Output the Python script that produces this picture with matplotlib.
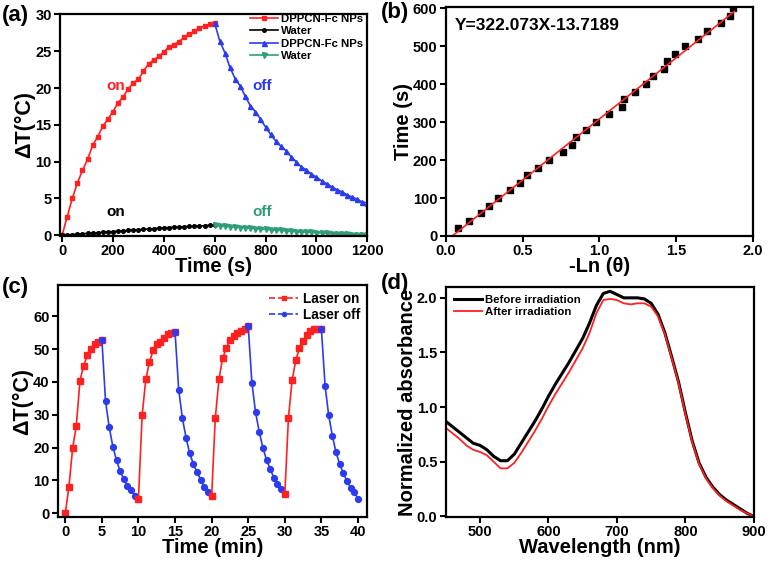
import matplotlib
matplotlib.use("Agg")
import matplotlib.pyplot as plt
from matplotlib.lines import Line2D
import numpy as np

plt.rcParams['font.family'] = ['Liberation Sans', 'DejaVu Sans']
plt.rcParams['font.weight'] = 'bold'
plt.rcParams['axes.labelweight'] = 'bold'

# (a) heating / cooling curves, time in s
t_on = list(range(0, 601, 20))
t_off = list(range(600, 1201, 20))
np_on = [0, 2.5, 5.0, 7.1, 8.8, 10.3, 12.2, 13.4, 14.8, 15.8, 16.8, 18.0, 18.8, 19.9, 20.7, 21.2,
         22.3, 23.3, 23.8, 24.3, 24.9, 25.6, 25.9, 26.3, 26.9, 27.4, 27.7, 28.2, 28.4, 28.7, 28.8]
np_off = [28.8, 26.4, 24.8, 22.8, 21.3, 20.3, 18.9, 17.6, 16.8, 15.8, 14.7, 13.7, 12.8, 12.1, 11.5,
          10.7, 10.0, 9.3, 8.9, 8.3, 7.9, 7.4, 7.0, 6.6, 6.2, 5.9, 5.5, 5.2, 4.9, 4.5, 4.4]
water_on = [0, 0.05, 0.1, 0.15, 0.2, 0.25, 0.3, 0.35, 0.4, 0.45, 0.5, 0.55, 0.6, 0.65, 0.7, 0.75,
            0.8, 0.85, 0.9, 0.95, 1.0, 1.05, 1.1, 1.1, 1.15, 1.2, 1.2, 1.25, 1.3, 1.35, 1.35]
water_off = [1.35, 1.25, 1.2, 1.15, 1.1, 1.05, 1.0, 0.95, 0.9, 0.85, 0.8, 0.75, 0.7, 0.65, 0.6,
             0.55, 0.5, 0.45, 0.42, 0.38, 0.34, 0.3, 0.26, 0.22, 0.19, 0.16, 0.13, 0.1, 0.07, 0.04, 0.02]

# (b) -ln(theta) vs time
neg_ln_theta = [0.08, 0.15, 0.23, 0.28, 0.34, 0.42, 0.48, 0.53, 0.60, 0.67, 0.76, 0.82, 0.85, 0.91,
                0.98, 1.06, 1.15, 1.16, 1.23, 1.30, 1.35, 1.42, 1.44, 1.49, 1.56, 1.64, 1.70, 1.79,
                1.85, 1.87]
time_b = list(range(20, 601, 20))
fit_slope, fit_icpt = 322.073, -13.7189
fit_x = [0.043, 1.88]

# (c) cycling, time in min
cyc_on_t = [[0, 0.5, 1, 1.5, 2, 2.5, 3, 3.5, 4, 4.5, 5],
            [10, 10.5, 11, 11.5, 12, 12.5, 13, 13.5, 14, 14.5, 15],
            [20, 20.5, 21, 21.5, 22, 22.5, 23, 23.5, 24, 24.5, 25],
            [30, 30.5, 31, 31.5, 32, 32.5, 33, 33.5, 34, 34.5, 35]]
cyc_on_v = [[0, 8.1, 19.8, 26.5, 40.3, 45.0, 48.1, 50.0, 51.6, 52.1, 52.9],
            [4.4, 29.8, 40.8, 46.0, 49.6, 51.5, 52.2, 53.5, 54.5, 55.0, 55.2],
            [5.1, 29.0, 40.8, 47.2, 50.3, 52.7, 54.0, 54.8, 55.6, 56.2, 57.0],
            [5.8, 29.1, 40.5, 46.6, 50.3, 52.6, 54.2, 55.4, 56.0, 56.2, 56.2]]
cyc_off_t = [[5, 5.5, 6, 6.5, 7, 7.5, 8, 8.5, 9, 9.5, 10],
             [15, 15.5, 16, 16.5, 17, 17.5, 18, 18.5, 19, 19.5, 20],
             [25, 25.5, 26, 26.5, 27, 27.5, 28, 28.5, 29, 29.5, 30],
             [35, 35.5, 36, 36.5, 37, 37.5, 38, 38.5, 39, 39.5, 40]]
cyc_off_v = [[52.9, 34.1, 26.2, 20.3, 16.1, 12.7, 10.3, 8.4, 7.1, 5.3, 4.4],
             [55.2, 37.6, 29.0, 23.0, 18.2, 15.0, 12.5, 10.2, 8.0, 6.3, 5.1],
             [57.0, 39.8, 30.8, 24.8, 20.0, 16.2, 13.5, 10.8, 8.8, 7.2, 5.8],
             [56.2, 38.9, 29.8, 23.6, 18.5, 15.0, 12.1, 9.8, 7.6, 6.3, 4.4]]

# (d) absorbance spectra
wl = list(range(450, 901, 10))
abs_before = [0.87, 0.82, 0.77, 0.72, 0.67, 0.65, 0.61, 0.55, 0.51, 0.51, 0.57, 0.67, 0.77, 0.87,
              0.98, 1.10, 1.21, 1.31, 1.41, 1.52, 1.63, 1.77, 1.93, 2.04, 2.06, 2.03, 2.00, 2.00,
              2.00, 1.99, 1.95, 1.85, 1.68, 1.46, 1.23, 0.95, 0.69, 0.49, 0.36, 0.27, 0.20, 0.15,
              0.11, 0.07, 0.03, 0.00]
abs_after = [0.81, 0.76, 0.71, 0.65, 0.61, 0.59, 0.56, 0.50, 0.44, 0.44, 0.49, 0.58, 0.68, 0.78,
             0.89, 1.01, 1.12, 1.22, 1.32, 1.43, 1.54, 1.68, 1.86, 1.98, 1.99, 1.98, 1.95, 1.94,
             1.95, 1.95, 1.92, 1.83, 1.67, 1.45, 1.22, 0.94, 0.68, 0.48, 0.35, 0.26, 0.19, 0.14,
             0.10, 0.06, 0.03, 0.00]

RED = '#ff2020'
BLUE = '#2b3cf0'
GREEN = '#2e9e7a'
TICK_FS = 10.5
LABEL_FS = 14.5


def style_ax(ax):
    for s in ax.spines.values():
        s.set_linewidth(1.6)
    ax.tick_params(direction='out', width=1.5, length=4, labelsize=TICK_FS, pad=2)
    for lab in ax.get_xticklabels() + ax.get_yticklabels():
        lab.set_fontweight('bold')


fig = plt.figure(figsize=(7.7, 5.64), dpi=100)
axa = fig.add_axes([0.078, 0.5816, 0.399, 0.394])
axb = fig.add_axes([0.579, 0.5816, 0.399, 0.406])
axc = fig.add_axes([0.0753, 0.0833, 0.401, 0.411])
axd = fig.add_axes([0.579, 0.0833, 0.400, 0.408])

# (a)
axa.plot(t_on, np_on, '-s', color=RED, ms=3.4, lw=1.2, label='DPPCN-Fc NPs')
axa.plot(t_on, water_on, '-o', color='black', ms=2.6, lw=1.2, label='Water')
axa.plot(t_off, np_off, '-^', color=BLUE, ms=3.6, lw=1.2, label='DPPCN-Fc NPs')
axa.plot(t_off, water_off, '-v', color=GREEN, ms=3.6, lw=1.2, label='Water')
axa.set_xlim(-8, 1200)
axa.set_ylim(-0.1, 30.1)
axa.set_xticks([0, 200, 400, 600, 800, 1000, 1200])
axa.set_yticks([0, 5, 10, 15, 20, 25, 30])
axa.set_xlabel('Time (s)', fontsize=LABEL_FS, labelpad=-1)
axa.set_ylabel('ΔT(°C)', fontsize=15.5, labelpad=0)
axa.text(210, 20.3, 'on', color=RED, fontsize=11, ha='center', va='center')
axa.text(787, 20.3, 'off', color=BLUE, fontsize=11, ha='center', va='center')
axa.text(210, 3.1, 'on', color='black', fontsize=11, ha='center', va='center')
axa.text(787, 3.1, 'off', color=GREEN, fontsize=11, ha='center', va='center')
axa.legend(loc='upper right', bbox_to_anchor=(1.0, 1.02), frameon=False, handlelength=2.5,
           handletextpad=0.2, labelspacing=0.22, borderaxespad=0.0,
           prop={'weight': 'bold', 'size': 8.2})
style_ax(axa)

# (b)
axb.plot(neg_ln_theta, time_b, 's', color='black', ms=4.6)
fx = np.array(fit_x)
axb.plot(fx, fit_slope * fx + fit_icpt, '-', color=RED, lw=1.2)
axb.set_xlim(0, 2.0)
axb.set_ylim(0, 603)
axb.set_xticks([0.0, 0.5, 1.0, 1.5, 2.0])
axb.set_yticks([0, 100, 200, 300, 400, 500, 600])
axb.set_xlabel('-Ln (θ)', fontsize=LABEL_FS, labelpad=-1)
axb.set_ylabel('Time (s)', fontsize=LABEL_FS, labelpad=0)
axb.text(0.03, 0.92, 'Y=322.073X-13.7189', transform=axb.transAxes, fontsize=12.5,
         ha='left', va='center')
style_ax(axb)

# (c)
for i in range(4):
    axc.plot(cyc_on_t[i], cyc_on_v[i], '-s', color=RED, ms=4, lw=1.2)
    axc.plot(cyc_off_t[i], cyc_off_v[i], '-o', color=BLUE, ms=4.2, lw=1.2)
axc.set_xlim(-1, 41.2)
axc.set_ylim(-1.2, 69.5)
axc.set_xticks([0, 5, 10, 15, 20, 25, 30, 35, 40])
axc.set_yticks([0, 10, 20, 30, 40, 50, 60])
axc.set_xlabel('Time (min)', fontsize=LABEL_FS, labelpad=-1)
axc.set_ylabel('ΔT(°C)', fontsize=15.5, labelpad=0)
hc = [Line2D([], [], color=RED, ls='--', marker='s', ms=3, lw=1.2),
      Line2D([], [], color=BLUE, ls='--', marker='o', ms=3, lw=1.2)]
axc.legend(hc, ['Laser on', 'Laser off'], loc='upper right', frameon=False, handlelength=2.2,
           handletextpad=0.3, labelspacing=0.15, borderaxespad=0.1,
           prop={'weight': 'bold', 'size': 9.8})
style_ax(axc)

# (d)
axd.plot(wl, abs_before, '-', color='black', lw=2.2, label='Before irradiation')
axd.plot(wl, abs_after, '-', color=RED, lw=1.3, label='After irradiation')
axd.set_xlim(450, 900)
axd.set_ylim(-0.005, 2.1)
axd.set_xticks([500, 600, 700, 800, 900])
axd.set_yticks([0.0, 0.5, 1.0, 1.5, 2.0])
axd.set_yticklabels(['0.0', '0.5', '1.0', '1.5', '2.0'])
axd.set_xlabel('Wavelength (nm)', fontsize=LABEL_FS, labelpad=-1)
axd.set_ylabel('Normalized absorbance', fontsize=LABEL_FS, labelpad=0)
axd.legend(loc='upper left', frameon=False, handlelength=2.4, handletextpad=0.25,
           labelspacing=0.12, borderaxespad=0.35, prop={'weight': 'bold', 'size': 8.2})
style_ax(axd)

# panel letters
fig.text(0.002, 0.973, '(a)', fontsize=16, ha='left', va='center')
fig.text(0.494, 0.977, '(b)', fontsize=16, ha='left', va='center')
fig.text(0.002, 0.49, '(c)', fontsize=16, ha='left', va='center')
fig.text(0.494, 0.498, '(d)', fontsize=16, ha='left', va='center')

fig.savefig('out.png', dpi=100)
